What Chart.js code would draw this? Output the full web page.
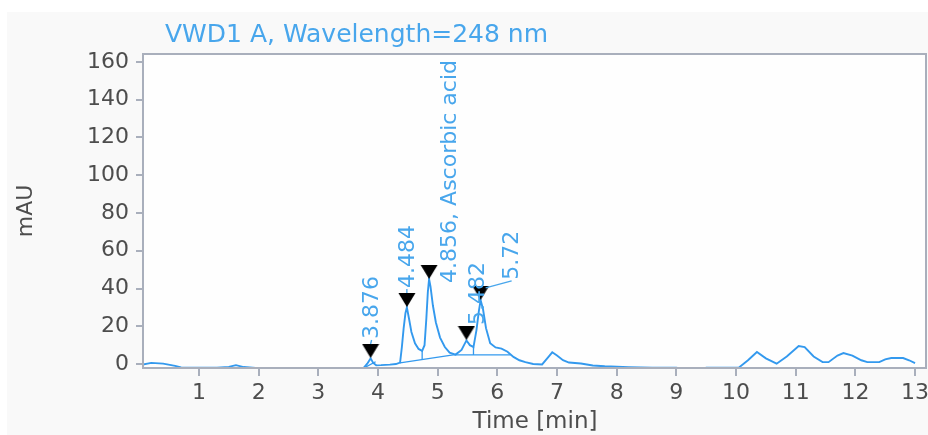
<!DOCTYPE html>
<html><head><meta charset="utf-8">
<script src="https://cdn.jsdelivr.net/npm/chart.js@4.4.1/dist/chart.umd.min.js"></script>
<style>html,body{margin:0;padding:0;background:#fff;}#wrap{width:928px;height:435px;}</style>
</head><body><div id="wrap"><canvas id="c" width="928" height="435"></canvas></div>
<script>
const chartTitle = 'VWD1 A, Wavelength=248 nm';
const xAxisTitle = 'Time [min]';
const yAxisTitle = 'mAU';

const traceTime = [0.06,0.2,0.4,0.6,0.7,1.0,1.3,1.5,1.62,1.75,
  1.9,2.05,2.2,3.0,3.7,3.76,3.82,3.876,3.92,3.97,
  4.05,4.2,4.3,4.37,4.40,4.43,4.46,4.484,4.52,4.56,
  4.62,4.68,4.74,4.78,4.81,4.835,4.856,4.88,4.92,4.97,
  5.04,5.12,5.2,5.3,5.4,5.482,5.54,5.60,5.65,5.69,
  5.72,5.76,5.81,5.88,5.97,6.07,6.17,6.27,6.37,6.47,
  6.6,6.75,6.85,6.92,7.0,7.1,7.2,7.4,7.6,7.8,
  8.2,8.6,9.0,9.1,9.3,9.45,9.5,9.9,10.05,10.2,
  10.35,10.5,10.68,10.85,11.05,11.15,11.3,11.45,11.55,11.7,
  11.8,11.95,12.1,12.2,12.4,12.5,12.6,12.8,12.9,13.0];
const traceSignal = [-0.3,0.6,0.2,-1.0,-1.8,-2.0,-1.9,-1.5,-0.6,-1.6,
  -2.0,-2.3,-3.0,-3.5,-2.8,-2.0,0.2,3.0,0.6,-0.7,
  -0.6,-0.3,0.0,0.8,9,19,27,30,24,17,
  11,8,7,10,24,38,45,41,31,22,
  14,9,6,5,7.5,12.5,10,9,18,28,
  33.8,29,19,11,8.8,8.2,6.5,3.8,2,1,
  0,-0.2,3.5,6.2,4.5,2,0.8,0.3,-0.8,-1.2,
  -1.7,-2.0,-2.0,-2.6,-3.5,-2.6,-2.0,-2.0,-1.8,2,
  6.4,3,0.2,4,9.5,9,4,1,1,4.5,
  5.8,4.5,2,1,1,2.5,3.2,3.2,2,0.5];

const peakTimes = [3.876, 4.484, 4.856, 5.482, 5.72];
const peakHeights = [3.2, 30.2, 45.1, 12.7, 34.0];
const peakLabels = ['3.876', '4.484', '4.856, Ascorbic acid', '5.482', '5.72'];

// integration baselines and drop lines (time, signal)
const baseline1Time = [3.79, 3.96];
const baseline1Signal = [-1.6, 1.2];
const baseline2Time = [4.37, 5.26, 6.22];
const baseline2Signal = [0.6, 4.8, 4.8];
const drop1Time = [4.74, 4.74];
const drop1Signal = [7, 2.6];
const drop2Time = [5.60, 5.60];
const drop2Signal = [9, 4.8];

const xTickValues = [1,2,3,4,5,6,7,8,9,10,11,12,13];
const yTickValues = [0,20,40,60,80,100,120,140,160];

const BLUE = '#3399ee';
const TEXTBLUE = '#48a6ec';
const AXIS = '#a9afbc';
const TICKTXT = '#4d4d4d';
const FONT = "'DejaVu Sans', sans-serif";

const toPts = (t, s) => t.map((v, i) => ({x: v, y: s[i]}));

// marker image: down-pointing triangle in top half so its tip sits on the point
const markImg = document.createElement('canvas');
markImg.width = 18; markImg.height = 28;
(function(){ const g = markImg.getContext('2d'); g.fillStyle = '#000';
  g.beginPath(); g.moveTo(0.5,0); g.lineTo(17.5,0); g.lineTo(9,14); g.closePath(); g.fill(); })();

const bgPlugin = {
  id: 'bg',
  beforeDraw(chart) {
    const {ctx, chartArea: a} = chart;
    ctx.save();
    ctx.fillStyle = '#ffffff'; ctx.fillRect(0, 0, chart.width, chart.height);
    ctx.fillStyle = '#f9f9f9'; ctx.fillRect(7, 12, chart.width - 7, chart.height - 12);
    ctx.fillStyle = '#fefefe'; ctx.fillRect(a.left, a.top, a.right - a.left, a.bottom - a.top);
    ctx.restore();
  },
  afterDatasetsDraw(chart) {
    const {ctx, chartArea: a} = chart;
    ctx.save();
    ctx.strokeStyle = AXIS; ctx.lineWidth = 2;
    ctx.strokeRect(a.left, a.top, a.right - a.left - 1, a.bottom - a.top);
    ctx.restore();
  }
};

const labelPlugin = {
  id: 'peakLabels',
  afterDraw(chart, args, opts) {
    const {ctx} = chart;
    const xs = chart.scales.x, ys = chart.scales.y;
    ctx.save();
    // chart title
    ctx.fillStyle = TEXTBLUE;
    ctx.font = '25px ' + FONT;
    ctx.textAlign = 'left'; ctx.textBaseline = 'middle';
    ctx.fillText(chartTitle, chart.chartArea.left + 22, 35);
    // peak labels
    ctx.font = '22px ' + FONT;
    ctx.strokeStyle = TEXTBLUE; ctx.lineWidth = 1.3;
    peakLabels.forEach((txt, i) => {
      const px = xs.getPixelForValue(peakTimes[i]);
      const py = ys.getPixelForValue(peakHeights[i]);
      const top = py - 14;
      const lx = px + opts.dx[i];
      const ly = top - opts.gap[i];
      if (opts.leader[i]) {
        ctx.beginPath();
        ctx.moveTo(px + opts.leader[i][0], top + opts.leader[i][1]);
        ctx.lineTo(lx, ly + 1);
        ctx.stroke();
      }
      ctx.save();
      ctx.translate(lx, ly);
      ctx.rotate(-Math.PI / 2);
      ctx.textAlign = 'left'; ctx.textBaseline = 'middle';
      ctx.fillText(txt, 0, 1);
      ctx.restore();
    });
    ctx.restore();
  }
};

const lineDs = (t, s, w) => ({
  type: 'line', data: toPts(t, s), borderColor: BLUE, borderWidth: w,
  pointRadius: 0, pointHoverRadius: 0, tension: 0, fill: false
});

new Chart(document.getElementById('c'), {
  type: 'line',
  data: {
    datasets: [
      { type: 'scatter', data: toPts(peakTimes, peakHeights), pointStyle: markImg,
        pointRadius: 9, pointHoverRadius: 9, showLine: false, clip: false },
      lineDs(traceTime, traceSignal, 1.9),
      lineDs(baseline1Time, baseline1Signal, 1.3),
      lineDs(baseline2Time, baseline2Signal, 1.3),
      lineDs(drop1Time, drop1Signal, 1.3),
      lineDs(drop2Time, drop2Signal, 1.3)
    ]
  },
  options: {
    responsive: false, animation: false, devicePixelRatio: 1,
    events: [],
    layout: { autoPadding: false, padding: { left: 0, top: 54, right: 1, bottom: 0 } },
    plugins: {
      legend: { display: false }, tooltip: { enabled: false }, title: { display: false },
      peakLabels: {
        dx: [1, 0, 20, 11, 31],
        gap: [5, 5, -18, 1, 6],
        leader: [[0, 0], [0, 0], null, null, [5, 2]]
      }
    },
    scales: {
      x: {
        type: 'linear', min: 0.062, max: 13.2,
        afterBuildTicks: s => { s.ticks = xTickValues.map(v => ({value: v})); },
        afterFit: s => { s.height = 67; s.paddingLeft = 0; s.paddingRight = 0; },
        ticks: { autoSkip: false, maxRotation: 0, color: TICKTXT, padding: 4,
          font: { family: FONT, size: 22 } },
        grid: { display: true, drawOnChartArea: false, drawTicks: true, tickLength: 8, color: AXIS, lineWidth: 2 },
        border: { display: false },
        title: { display: true, text: xAxisTitle, color: TICKTXT,
          font: { family: FONT, size: 23, lineHeight: 1 }, padding: { top: 0, bottom: 1 } }
      },
      y: {
        type: 'linear', min: -2.1, max: 164.2,
        afterBuildTicks: s => { s.ticks = yTickValues.map(v => ({value: v})); },
        afterFit: s => { s.width = 143; s.paddingTop = 0; s.paddingBottom = 0; },
        ticks: { color: TICKTXT, padding: 7, font: { family: FONT, size: 22 } },
        grid: { display: true, drawOnChartArea: false, drawTicks: true, tickLength: 7, color: AXIS, lineWidth: 2 },
        border: { display: false },
        title: { display: true, text: yAxisTitle, color: TICKTXT,
          font: { family: FONT, size: 22, lineHeight: 1 }, padding: { top: 15, bottom: 0 } }
      }
    }
  },
  plugins: [bgPlugin, labelPlugin]
});
</script></body></html>
